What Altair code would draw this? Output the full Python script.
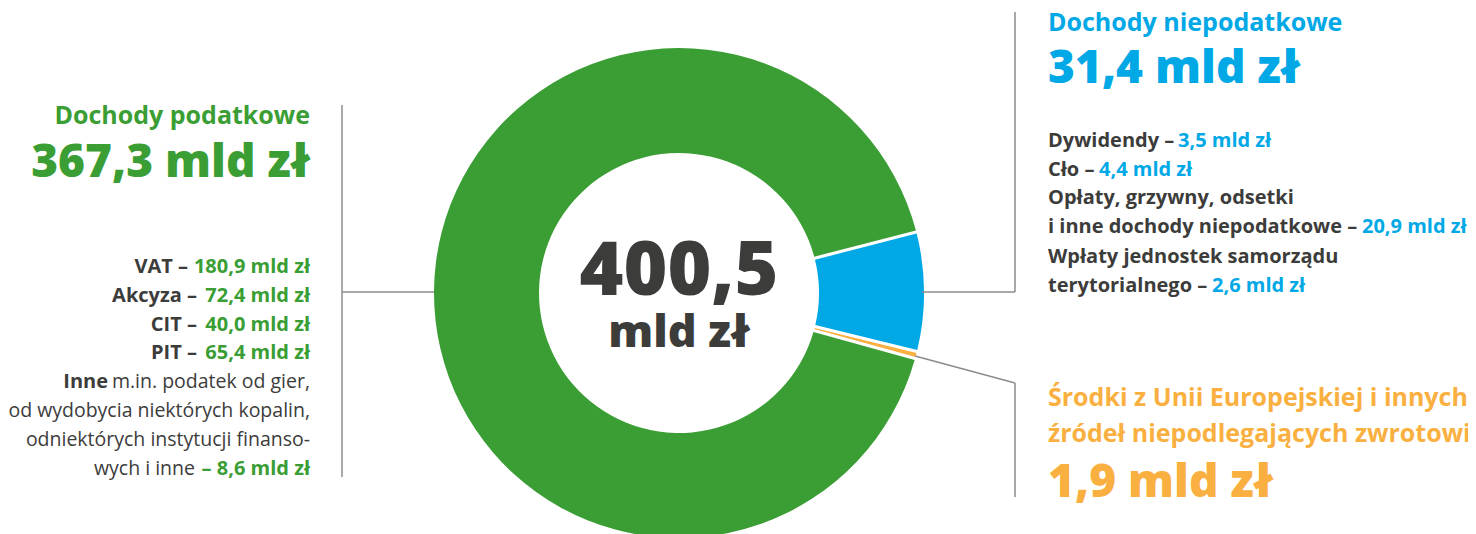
import math
import altair as alt
import pandas as pd

# ---- data ----
segments = ["Dochody niepodatkowe", "Środki z UE", "Dochody podatkowe"]
seg_values = [31.4, 1.9, 367.3]
seg_colors = ["#00a8e6", "#f9b040", "#3a9e34"]
total_value = 400.5

tax_labels = ["VAT", "Akcyza", "CIT", "PIT"]
tax_values = [180.9, 72.4, 40.0, 65.4]
tax_other_value = 8.6

nontax_labels = ["Dywidendy", "Cło", "i inne dochody niepodatkowe", "terytorialnego"]
nontax_values = [3.5, 4.4, 20.9, 2.6]

GREEN, BLUE, ORANGE = "#3a9e34", "#00a8e6", "#f9b040"
DARK = "#3c3c3b"
GRAY = "#8c8c8c"
FONT = "Open Sans"
OFF = 8
S_TITLE, S_BIG, S_DET, S_REG = 25, 46, 20, 19.5


def fmt(v, unit=True):
    s = f"{v:.1f}".replace(".", ",")
    return s + " mld zł" if unit else s


one = pd.DataFrame({"k": [0]})


def txt(s, x, y, size, color, weight="bold", align="left"):
    return alt.Chart(one).mark_text(
        text=s, fontSize=size, font=FONT, fontWeight=weight, color=color,
        align=align, baseline="alphabetic"
    ).encode(x=alt.value(x - OFF), y=alt.value(y - OFF))


def line(x1, y1, x2, y2):
    return alt.Chart(one).mark_rule(color=GRAY, strokeWidth=1.5).encode(
        x=alt.value(x1 - OFF), y=alt.value(y1 - OFF),
        x2=alt.value(x2 - OFF), y2=alt.value(y2 - OFF)
    )


# ---- donut ----
df = pd.DataFrame({"segment": segments, "value": seg_values, "ord": [0, 1, 2]})
start = math.radians(75.6)
donut = alt.Chart(df).mark_arc(innerRadius=140, outerRadius=245, padAngle=0.011).encode(
    theta=alt.Theta("value:Q", stack=True, scale=alt.Scale(range=[start, start + 2 * math.pi])),
    color=alt.Color("segment:N", scale=alt.Scale(domain=segments, range=seg_colors), legend=None),
    order=alt.Order("ord:Q"),
    x=alt.value(679 - OFF),
    y=alt.value(293 - OFF),
)

layers = [donut]

# connectors
layers += [
    line(342, 105, 342, 477),
    line(342, 292, 434, 292),
    line(1015, 12, 1015, 292),
    line(922, 292, 1015, 292),
    line(915, 356, 1015, 383),
    line(1015, 383, 1015, 497),
]

# center
layers += [
    txt(fmt(total_value, unit=False), 679, 295, 75, DARK, weight=800, align="center"),
    txt("mld zł", 679, 347, 45, DARK, weight=800, align="center"),
]

# left block (tax revenues)
R = 310
layers += [
    txt("Dochody podatkowe", R, 124, S_TITLE, GREEN, align="right"),
    txt(fmt(seg_values[2]), R, 177, S_BIG, GREEN, weight=800, align="right"),
]
left_baselines = [273, 302, 331, 359]
left_dash_ends = [188, 197, 197, 197]
for lab, val, yb, xe in zip(tax_labels, tax_values, left_baselines, left_dash_ends):
    layers.append(txt(f"{lab} –", xe, yb, S_DET, DARK, align="right"))
    layers.append(txt(fmt(val), R, yb, S_DET, GREEN, align="right"))
layers += [
    txt("Inne", 108, 388, S_DET, DARK, align="right"),
    txt("m.in. podatek od gier,", R, 388, S_REG, DARK, weight="normal", align="right"),
    txt("od wydobycia niektórych kopalin,", R, 417, S_REG, DARK, weight="normal", align="right"),
    txt("odniektórych instytucji finanso-", R, 446, S_REG, DARK, weight="normal", align="right"),
    txt("wych i inne", 195, 475, S_REG, DARK, weight="normal", align="right"),
    txt("– " + fmt(tax_other_value), R, 475, S_DET, GREEN, align="right"),
]

# right block (non-tax revenues)
L = 1048
layers += [
    txt("Dochody niepodatkowe", L, 31, S_TITLE, BLUE),
    txt(fmt(seg_values[0]), L, 83, S_BIG, BLUE, weight=800),
    txt("Opłaty, grzywny, odsetki", L, 204, S_DET, DARK),
    txt("Wpłaty jednostek samorządu", L, 263, S_DET, DARK),
]
right_baselines = [147, 176, 233, 292]
right_val_x = [1178, 1099, 1362, 1212]
for lab, val, yb, xv in zip(nontax_labels, nontax_values, right_baselines, right_val_x):
    layers.append(txt(f"{lab} –", L, yb, S_DET, DARK))
    layers.append(txt(fmt(val), xv, yb, S_DET, BLUE))

# EU funds block
layers += [
    txt("Środki z Unii Europejskiej i innych", L, 406, S_TITLE, ORANGE),
    txt("źródeł niepodlegających zwrotowi", L, 442, S_TITLE, ORANGE),
    txt(fmt(seg_values[1]), L, 497, S_BIG, ORANGE, weight=800),
]

chart = alt.layer(*layers).properties(
    width=1460, height=526, padding=0, autosize="none", background="white"
).configure_view(stroke=None)

chart.save("out.html", embed_options={"renderer": "svg", "actions": False})
